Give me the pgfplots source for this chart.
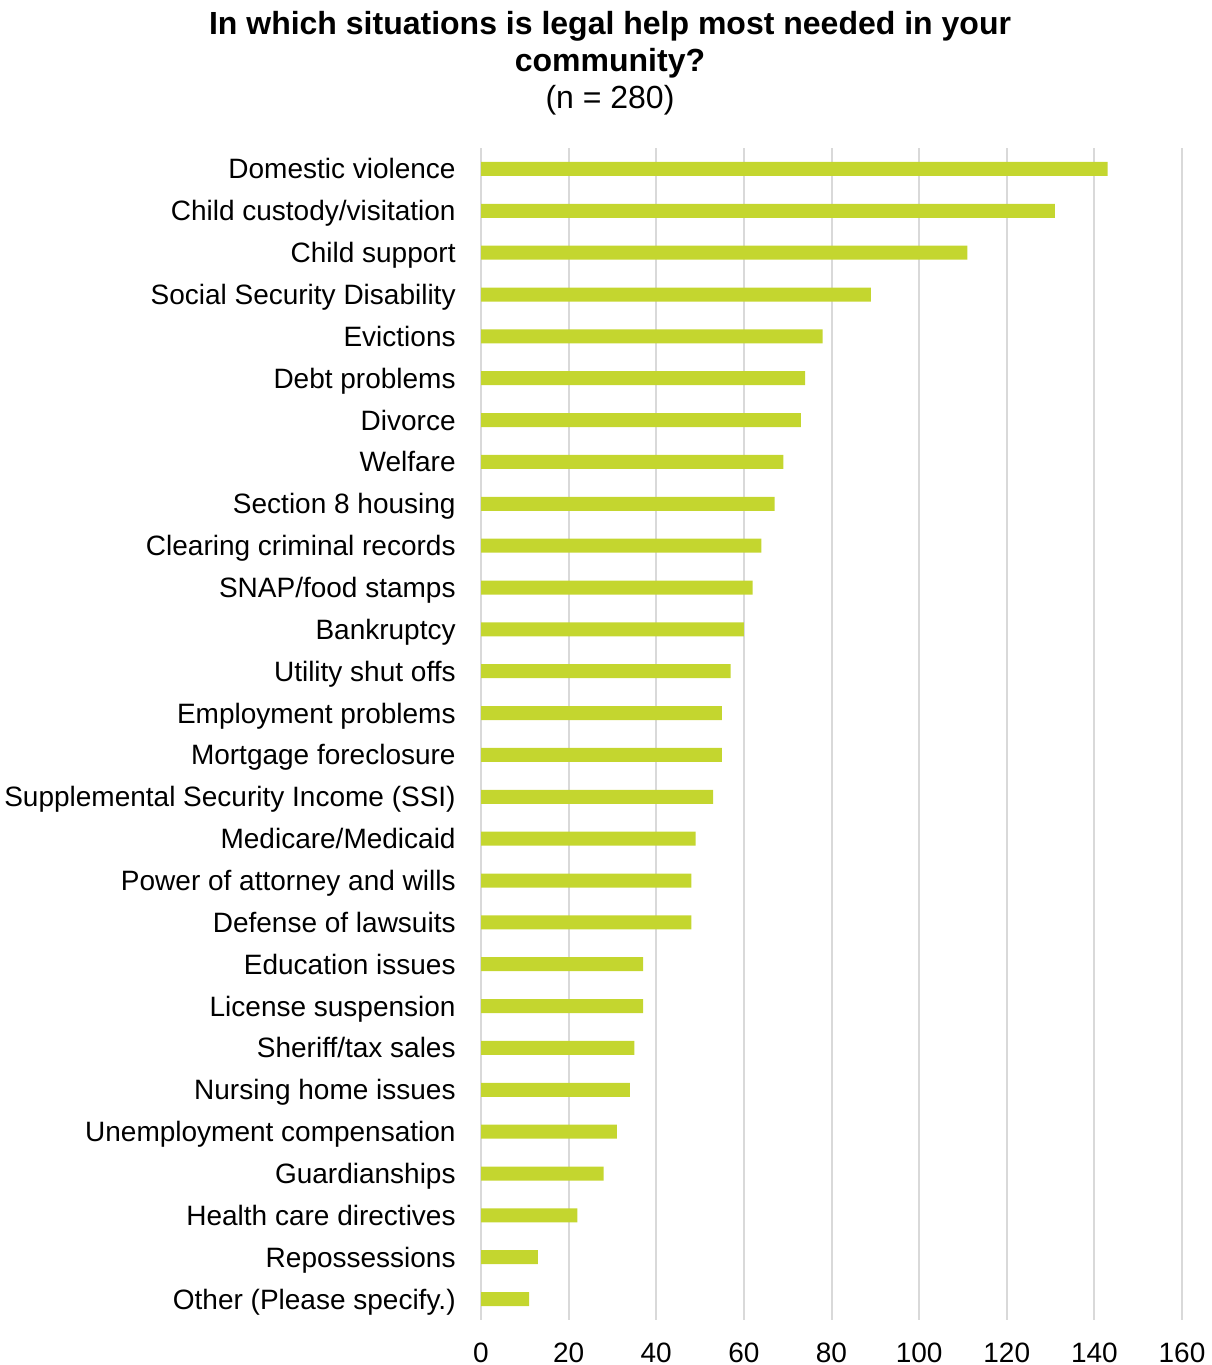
\documentclass[border=0pt]{standalone}
\usepackage{pgfplots}
\pgfplotsset{compat=1.18}
\usepackage{fontspec}
\setmainfont{Liberation Sans}
\definecolor{barc}{HTML}{C4D62F}
\definecolor{gridc}{HTML}{D9D9D9}
\begin{document}
\begin{tikzpicture}
\useasboundingbox (0,0) rectangle (605.5pt,682.5pt);
\node[anchor=base, align=center, font=\fontsize{16pt}{18.5pt}\selectfont] at (305pt,628pt)
  {\textbf{In which situations is legal help most needed in your}\\\textbf{community?}\\(n = 280)};
\begin{axis}[
  at={(240.5pt,22.5pt)}, anchor=south west,
  scale only axis, width=350.5pt, height=586pt,
  xbar, bar width=7pt,
  y dir=reverse,
  xmin=0, xmax=160, ymin=-0.5, ymax=27.5,
  xtick={0,20,...,160},
  ytick={0,...,27},
  yticklabels={{Domestic violence},{Child custody/visitation},{Child support},{Social Security Disability},{Evictions},{Debt problems},{Divorce},{Welfare},{Section 8 housing},{Clearing criminal records},{SNAP/food stamps},{Bankruptcy},{Utility shut offs},{Employment problems},{Mortgage foreclosure},{Supplemental Security Income (SSI)},{Medicare/Medicaid},{Power of attorney and wills},{Defense of lawsuits},{Education issues},{License suspension},{Sheriff/tax sales},{Nursing home issues},{Unemployment compensation},{Guardianships},{Health care directives},{Repossessions},{Other (Please specify.)}},
  axis line style={draw=none},
  major tick length=0pt,
  xmajorgrids, major grid style={gridc, line width=1pt},
  tick label style={font=\fontsize{14pt}{16pt}\selectfont},
  /pgf/number format/assume math mode=true,
  yticklabel style={anchor=base east, inner sep=0pt, xshift=-12.5pt, yshift=-5pt},
  xticklabel style={anchor=base, inner sep=0pt, yshift=-21pt},
]
\addplot[fill=barc, draw=none] coordinates {
(143,0) (131,1) (111,2) (89,3) (78,4) (74,5) (73,6) (69,7) (67,8) (64,9)
(62,10) (60,11) (57,12) (55,13) (55,14) (53,15) (49,16) (48,17) (48,18) (37,19)
(37,20) (35,21) (34,22) (31,23) (28,24) (22,25) (13,26) (11,27)};
\end{axis}
\end{tikzpicture}
\end{document}
